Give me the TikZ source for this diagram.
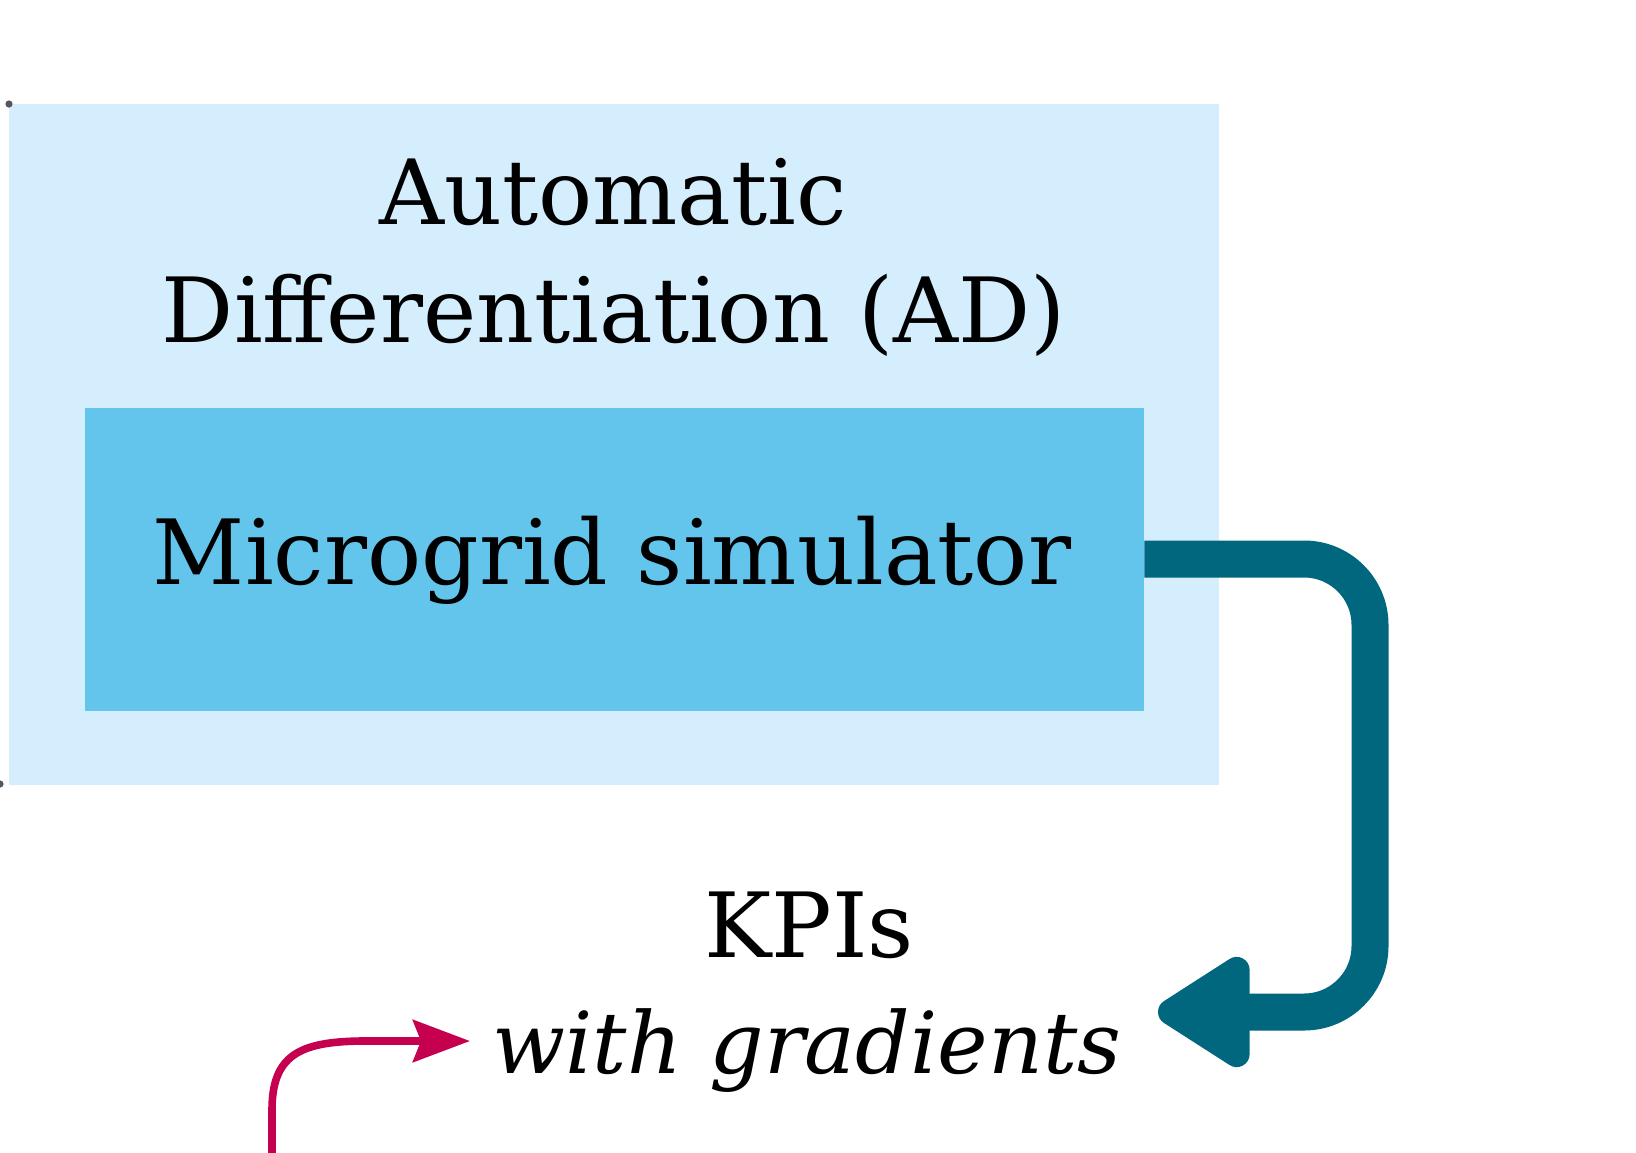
\documentclass[tikz,border=0pt]{standalone}
\usepackage{fontspec}
\setmainfont{DejaVu Serif}
\usetikzlibrary{arrows.meta}
\definecolor{adbg}{HTML}{D4EEFD}
\definecolor{simbg}{HTML}{64C5EC}
\definecolor{teal}{HTML}{00677F}
\definecolor{pinkc}{HTML}{C5004F}
\definecolor{dotc}{HTML}{56565E}
\tikzset{
  txt/.style={inner sep=0pt, anchor=base, font=\fontsize{45pt}{56pt}\selectfont},
  box/.style={draw=none, inner sep=0pt},
}
\begin{document}
\begin{tikzpicture}[x=0.5pt,y=-0.5pt]
\useasboundingbox (0,0) rectangle (1636,1152);
\fill[white] (0,0) rectangle (1636,1152);
% boxes
\node[box, fill=adbg, minimum width=605.2pt, minimum height=340.5pt, anchor=north west] (ad) at (8.3,104) {};
\node[box, fill=simbg, minimum width=529.55pt, minimum height=151.3pt, anchor=north west] (sim) at (84.5,408) {};
% texts
\node[txt] (t1) at (613,224) {Automatic};
\node[txt] (t2) at (614,342) {Differentiation (AD)};
\node[txt] (simtxt) at (612,584) {Microgrid simulator};
\node[txt] (kpi) at (809,957) {KPIs};
\node[txt, font=\fontsize{42.7pt}{56pt}\selectfont\itshape] (grad) at (807,1073) {with gradients};
% dots
\fill[dotc] (9,104) circle[radius=1.8pt];
\fill[dotc] (0,784) circle[radius=1.8pt];
% teal arrow
\coordinate (kin) at (1158,1012);
\draw[teal, line width=18.5pt, rounded corners=33pt, -{Triangle[length=52pt,width=62pt,round]}]
  (sim.east |- 0,559) -| (1370,1012) -- (kin);
% pink arrow
\coordinate (pstart) at (272,1160);
\coordinate (pin) at (470,1041);
\draw[pinkc, line width=3.8pt, -{Stealth[length=28.5pt,width=21pt,inset=4pt]}]
  (pstart) -- (272,1110) .. controls (272,1055) and (300,1042) .. (360,1041) -- (pin);
\end{tikzpicture}
\end{document}
